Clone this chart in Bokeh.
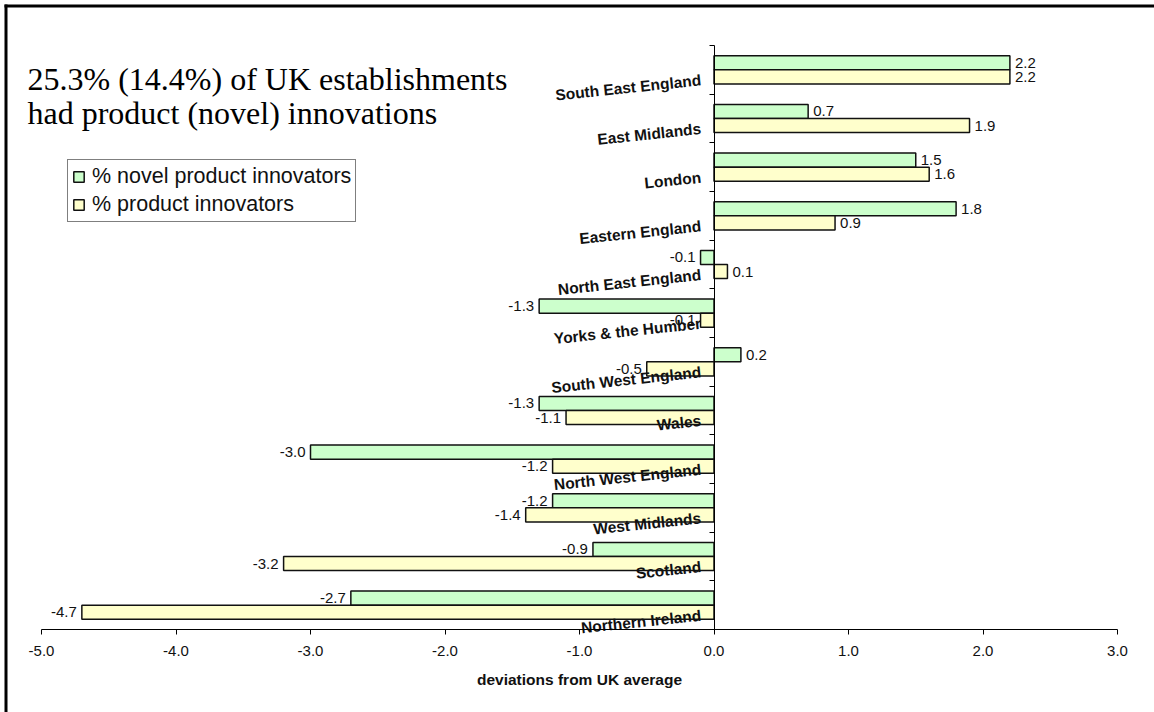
import numpy as np
from bokeh.plotting import figure
from bokeh.models import (ColumnDataSource, Range1d, LinearAxis, FixedTicker,
                          NumeralTickFormatter, Legend, LegendItem, Label,
                          BoxAnnotation)
from bokeh.core.properties import value
from bokeh.embed import file_html
from bokeh.resources import INLINE

# Regional deviations from the UK average (percentage points), top to bottom
regions = ["South East England", "East Midlands", "London", "Eastern England",
           "North East England", "Yorks & the Humber", "South West England",
           "Wales", "North West England", "West Midlands", "Scotland",
           "Northern Ireland"]
novel = [2.2, 0.7, 1.5, 1.8, -0.1, -1.3, 0.2, -1.3, -3.0, -1.2, -0.9, -2.7]
product = [2.2, 1.9, 1.6, 0.9, 0.1, -0.1, -0.5, -1.1, -1.2, -1.4, -3.2, -4.7]
x_ticks = [-5, -4, -3, -2, -1, 0, 1, 2, 3]
series_names = ["% novel product innovators", "% product innovators"]
title_lines = ["25.3% (14.4%) of UK establishments",
               "had product (novel) innovations"]
x_label = "deviations from UK average"

GREEN = "#CCFFCC"
YELLOW = "#FFFFCC"
SANS = "Liberation Sans"
SERIF = "Liberation Serif"

W, H = 1154, 712
# pixel box of the axes inside the page; the plotting frame covers the page
AX_L, AX_R, AX_T, AX_B = 41, 1117, 45, 629

n = len(regions)
sx = (AX_R - AX_L) / (x_ticks[-1] - x_ticks[0])
sy = (AX_B - AX_T) / n
x_range = Range1d(x_ticks[0] - AX_L / sx, x_ticks[-1] + (W - AX_R) / sx)
y_range = Range1d(-(H - AX_B) / sy, n + AX_T / sy)

centers = n - 0.5 - np.arange(n)          # first region at the top
BAR_H = 0.29

src_novel = ColumnDataSource(dict(y=centers + BAR_H / 2, v=novel,
                                  lab=[f"{v:.1f}" for v in novel]))
src_prod = ColumnDataSource(dict(y=centers - BAR_H / 2, v=product,
                                 lab=[f"{v:.1f}" for v in product]))

p = figure(width=W, height=H, output_backend="svg", toolbar_location=None,
           x_range=x_range, y_range=y_range, x_axis_location=None,
           y_axis_location=None, min_border=0)
p.background_fill_color = "white"
p.border_fill_color = "white"
p.outline_line_color = None
p.grid.visible = False

# value axis along y = 0
xa = LinearAxis(fixed_location=0, bounds=(x_ticks[0], x_ticks[-1]),
                ticker=FixedTicker(ticks=x_ticks),
                formatter=NumeralTickFormatter(format="0.0"))
xa.minor_tick_line_color = None
xa.major_tick_in = 0
xa.major_tick_out = 5
xa.axis_line_color = "black"
xa.major_tick_line_color = "black"
xa.major_label_text_font = SANS
xa.major_label_text_font_size = "15px"
xa.major_label_text_color = "#111111"
xa.major_label_standoff = 11
xa.axis_label = x_label
xa.axis_label_text_font = SANS
xa.axis_label_text_font_style = "bold"
xa.axis_label_text_font_size = "15.5px"
xa.axis_label_text_color = "#111111"
xa.axis_label_standoff = 12
p.add_layout(xa, "below")

# category axis along x = 0, tick marks on the band boundaries
ya = LinearAxis(fixed_location=0, bounds=(0, n),
                ticker=FixedTicker(ticks=[], minor_ticks=list(range(n + 1))),
                major_tick_line_color=None, minor_tick_in=0, minor_tick_out=5,
                minor_tick_line_color="black", axis_line_color="black")
p.add_layout(ya, "left")

r_novel = p.hbar(y="y", left=0, right="v", height=BAR_H, source=src_novel,
                 fill_color=GREEN, line_color="#111111", line_width=1.5)
r_prod = p.hbar(y="y", left=0, right="v", height=BAR_H, source=src_prod,
                fill_color=YELLOW, line_color="#111111", line_width=1.5)

# value labels at the bar ends
for src in (src_novel, src_prod):
    d = src.data
    for positive in (True, False):
        idx = [i for i, v in enumerate(d["v"]) if (v >= 0) == positive]
        sub = ColumnDataSource(dict(y=[d["y"][i] for i in idx],
                                    v=[d["v"][i] for i in idx],
                                    lab=[d["lab"][i] for i in idx]))
        p.text(x="v", y="y", text="lab", source=sub,
               x_offset=5 if positive else -5,
               text_align="left" if positive else "right",
               text_baseline="middle", text_font=value(SANS),
               text_font_size="15px", text_color="#111111")

# slanted region names next to the axis
p.text(x=0, y=centers, text=regions, angle=np.deg2rad(6), x_offset=-13,
       y_offset=10, text_align="right", text_baseline="alphabetic",
       text_font=value(SANS), text_font_style="bold", text_font_size="15.5px",
       text_color="#111111")

legend = Legend(items=[LegendItem(label=series_names[0], renderers=[r_novel]),
                       LegendItem(label=series_names[1], renderers=[r_prod])],
                location=(67, H - 222), margin=0, padding=4, spacing=3,
                glyph_width=13, glyph_height=13, label_standoff=7,
                label_height=24, label_text_font=SANS,
                label_text_font_size="21.5px", label_text_color="#111111",
                border_line_color="black", border_line_width=1,
                background_fill_color="white", background_fill_alpha=1)
p.add_layout(legend, "center")

for line, base in zip(title_lines, (78, 112.5)):
    p.add_layout(Label(x=27, y=H - base, x_units="screen", y_units="screen",
                       text=line, text_font=SERIF, text_font_size="32px",
                       text_color="black", text_baseline="alphabetic",
                       text_align="left"))

# chart-area frame: only its left and top edges lie inside the page
frame_edges = [dict(left=4, right=7, top=H - 4, bottom=-50),
               dict(left=4, right=W + 50, top=H - 4, bottom=H - 7)]
for e in frame_edges:
    p.add_layout(BoxAnnotation(**e, left_units="screen", right_units="screen",
                               top_units="screen", bottom_units="screen",
                               fill_color="black", fill_alpha=1,
                               line_color=None))

open("out.html", "w").write(file_html(p, INLINE))
